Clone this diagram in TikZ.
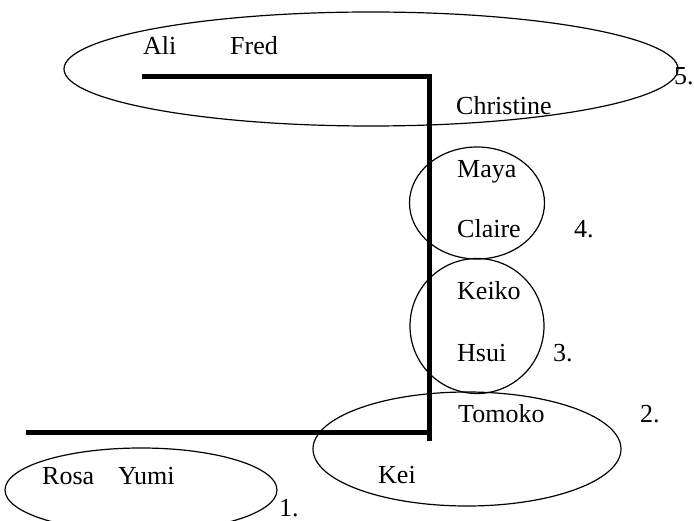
\documentclass[tikz,border=0pt]{standalone}
\usepackage{fontspec}
\setmainfont{Liberation Serif}
\usetikzlibrary{shapes.geometric}
\tikzset{
  setring/.style={draw, ellipse, line width=1.2pt, inner sep=0pt},
  person/.style={anchor=base west, inner sep=0pt, font=\fontsize{26}{30}\selectfont},
  divider/.style={line width=5pt}
}

\begin{document}
\begin{tikzpicture}[x=1pt, y=-1pt]
        \useasboundingbox (0, 0) rectangle (694, 521);
        % the five sets
        \node[setring, minimum width=272pt, minimum height=84pt] (set1) at (141, 490) {};
        \node[setring, minimum width=308pt, minimum height=114pt] (set2) at (467, 449) {};
        \node[setring, minimum width=134pt, minimum height=135pt] (set3) at (477, 326) {};
        \node[setring, minimum width=135pt, minimum height=112pt] (set4) at (477, 203) {};
        \node[setring, minimum width=614pt, minimum height=114pt] (set5) at (371, 69) {};
        % the thick line
        \coordinate (topleft) at (142, 77);
        \coordinate (corner) at (429, 77);
        \coordinate (foot) at (429, 441);
        \coordinate (lowleft) at (26, 433);
        \coordinate (lowright) at (429, 433);
        \draw[divider] (topleft) -- (corner) -- (foot);
        \draw[divider] (lowleft) -- (lowright);
        % names
        \foreach \n/\x/\y in {Ali/143/55, Fred/230/55, Christine/456/115, Maya/457/178,
                Claire/457/238, Keiko/457/300, Hsui/457/362, Tomoko/458/423,
                Kei/378/483, Rosa/42/484, Yumi/118/484}
            \node[person] (\n) at (\x, \y) {\n};
        % numbers
        \foreach \k/\x/\y in {1/279/516, 2/640/423, 3/553/362, 4/574/238, 5/674/85}
            \node[person] (num\k) at (\x, \y) {\k.};
    \end{tikzpicture}
\end{document}
